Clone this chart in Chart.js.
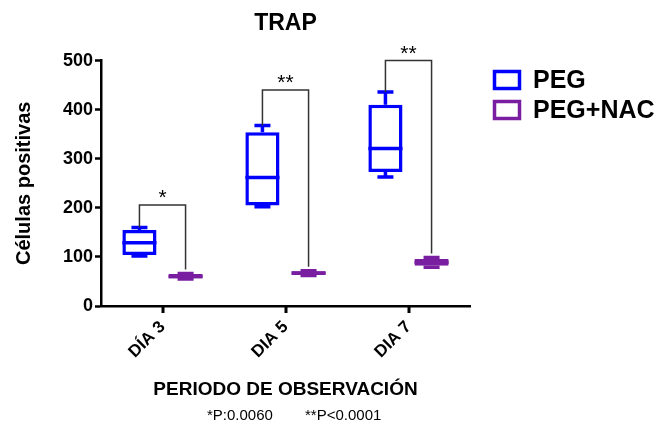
<!DOCTYPE html>
<html>
<head>
<meta charset="utf-8">
<title>TRAP</title>
<script src="https://cdn.jsdelivr.net/npm/chart.js@4.4.0/dist/chart.umd.min.js"></script>
<style>
  html, body { margin: 0; padding: 0; background: #fff; }
  #wrap { position: relative; width: 667px; height: 424px; }
</style>
</head>
<body>
<div id="wrap"><canvas id="trapChart"></canvas></div>
<script>
(function () {
  "use strict";

  // values
  var categories = ["DÍA 3", "DIA 5", "DIA 7"];
  var yTicks = [0, 100, 200, 300, 400, 500];

  var pegMin = [102, 202, 263];
  var pegQ1 = [104, 205, 273];
  var pegMedian = [129, 262, 321];
  var pegQ3 = [155, 354, 410];
  var pegMax = [160, 368, 436];

  var nacMin = [55, 62, 79];
  var nacQ1 = [56, 63, 82];
  var nacMedian = [60, 67, 89];
  var nacQ3 = [65, 71, 96];
  var nacMax = [66, 72, 99];

  var bracketTop = [206, 440, 500];
  var bracketStars = ["*", "**", "**"];
  var footnotes = ["*P:0.0060", "**P<0.0001"];

  var BLUE = "#0000ff";
  var PURPLE = "#7a1ea1";
  var FONT = "'Liberation Sans', Arial, Helvetica, sans-serif";

  Chart.defaults.font.family = FONT;
  Chart.defaults.color = "#000";

  var stats = [
    { min: pegMin, q1: pegQ1, med: pegMedian, q3: pegQ3, max: pegMax },
    { min: nacMin, q1: nacQ1, med: nacMedian, q3: nacQ3, max: nacMax }
  ];

  function boxRange(q1, q3) {
    return categories.map(function (c, i) { return [q1[i], q3[i]]; });
  }

  // whiskers, medians and caps, on top of the floating bars
  var boxPlotPlugin = {
    id: "boxWhiskers",
    afterDatasetsDraw: function (chart) {
      var ctx = chart.ctx;
      var y = chart.scales.y;
      ctx.save();

      chart.data.datasets.forEach(function (ds, d) {
        var meta = chart.getDatasetMeta(d);
        var s = stats[d];
        ctx.strokeStyle = ds.borderColor;
        ctx.lineWidth = 3.5;
        ctx.lineCap = "butt";
        meta.data.forEach(function (bar, i) {
          var x = bar.x;
          var half = bar.width / 2;
          var pMin = y.getPixelForValue(s.min[i]);
          var pMax = y.getPixelForValue(s.max[i]);
          var pQ1 = y.getPixelForValue(s.q1[i]);
          var pQ3 = y.getPixelForValue(s.q3[i]);
          var pMed = y.getPixelForValue(s.med[i]);
          ctx.beginPath();
          ctx.moveTo(x, pQ3); ctx.lineTo(x, pMax);
          ctx.moveTo(x - 8, pMax); ctx.lineTo(x + 8, pMax);
          ctx.moveTo(x, pQ1); ctx.lineTo(x, pMin);
          ctx.moveTo(x - 8, pMin); ctx.lineTo(x + 8, pMin);
          ctx.moveTo(x - half, pMed); ctx.lineTo(x + half, pMed);
          ctx.stroke();
        });
      });

      // significance brackets
      var a = chart.getDatasetMeta(0).data;
      var b = chart.getDatasetMeta(1).data;
      ctx.strokeStyle = "#333";
      ctx.lineWidth = 1.5;
      ctx.fillStyle = "#000";
      ctx.font = "21px " + FONT;
      ctx.textAlign = "center";
      ctx.textBaseline = "alphabetic";
      categories.forEach(function (c, i) {
        var top = y.getPixelForValue(bracketTop[i]);
        var left = y.getPixelForValue(pegMax[i]);
        var right = y.getPixelForValue(nacMax[i]) - 4;
        ctx.beginPath();
        ctx.moveTo(a[i].x, left);
        ctx.lineTo(a[i].x, top);
        ctx.lineTo(b[i].x, top);
        ctx.lineTo(b[i].x, right);
        ctx.stroke();
        ctx.fillText(bracketStars[i], (a[i].x + b[i].x) / 2, top - 1);
      });
      ctx.restore();
    },
    afterDraw: function (chart) {
      var ctx = chart.ctx;
      var area = chart.chartArea;
      var a = chart.getDatasetMeta(0).data;
      var b = chart.getDatasetMeta(1).data;
      ctx.save();

      // x tick marks under each category centre
      ctx.fillStyle = "#000000";
      for (var i = 0; i < categories.length; i++) {
        var px = Math.round((a[i].x + b[i].x) / 2);
        ctx.fillRect(px - 1.5, area.bottom - 1, 3, 8);
      }

      // legend
      ctx.textAlign = "left";
      ctx.textBaseline = "middle";
      ctx.font = "bold 25px " + FONT;
      chart.data.datasets.forEach(function (ds, d) {
        var cy = 80 + d * 30;
        ctx.strokeStyle = ds.borderColor;
        ctx.lineWidth = 3.5;
        ctx.strokeRect(494.5, cy - 8.5, 25, 17);
        ctx.fillStyle = "#000";
        ctx.fillText(ds.label, 533, cy + 1);
      });
      // footnote
      ctx.font = "15px " + FONT;
      ctx.fillText(footnotes[0], 207, 416);
      ctx.fillText(footnotes[1], 305, 416);
      ctx.restore();
    }
  };

  new Chart(document.getElementById("trapChart"), {
    type: "bar",
    data: {
      labels: categories,
      datasets: [
        {
          label: "PEG",
          data: boxRange(pegQ1, pegQ3),
          backgroundColor: "#fff",
          borderColor: BLUE,
          borderWidth: 3.5,
          borderSkipped: false
        },
        {
          label: "PEG+NAC",
          data: boxRange(nacQ1, nacQ3),
          backgroundColor: "#fff",
          borderColor: PURPLE,
          borderWidth: 3.5,
          borderSkipped: false
        }
      ]
    },
    options: {
      responsive: true,
      maintainAspectRatio: false,
      animation: false,
      categoryPercentage: 0.75,
      barPercentage: 0.74,
      layout: { padding: { left: 0, right: 197, top: 0, bottom: 0 } },
      plugins: {
        legend: { display: false },
        tooltip: { enabled: false },
        title: {
          display: true,
          text: "TRAP",
          fullSize: false,
          font: { size: 23, weight: "bold" },
          color: "#000",
          padding: { top: 10, bottom: 23 }
        }
      },
      scales: {
        x: {
          afterFit: function (scale) { scale.height = 118; },
          grid: { display: false },
          border: { display: true, color: "#000", width: 2.5 },
          ticks: {
            font: { size: 17, weight: "bold" },
            color: "#000",
            minRotation: 45,
            maxRotation: 45,
            padding: 3
          },
          title: {
            display: true,
            text: "PERIODO DE OBSERVACIÓN",
            font: { size: 19, weight: "bold" },
            color: "#000",
            padding: { top: 0, bottom: 23 }
          }
        },
        y: {
          min: 0,
          max: 500,
          afterFit: function (scale) { scale.width = 101; },
          afterBuildTicks: function (scale) {
            scale.ticks = yTicks.map(function (v) { return { value: v }; });
          },
          grid: { display: true, drawOnChartArea: false, drawTicks: true, tickLength: 6, tickWidth: 2.5, tickColor: "#000" },
          border: { display: true, color: "#000", width: 2.5 },
          ticks: {
            font: { size: 18, weight: "bold" },
            color: "#000",
            padding: 2
          },
          title: {
            display: true,
            text: "Células positivas",
            font: { size: 20, weight: "bold" },
            color: "#000",
            padding: { top: 12, bottom: 0 }
          }
        }
      }
    },
    plugins: [boxPlotPlugin]
  });
})();
</script>
</body>
</html>
